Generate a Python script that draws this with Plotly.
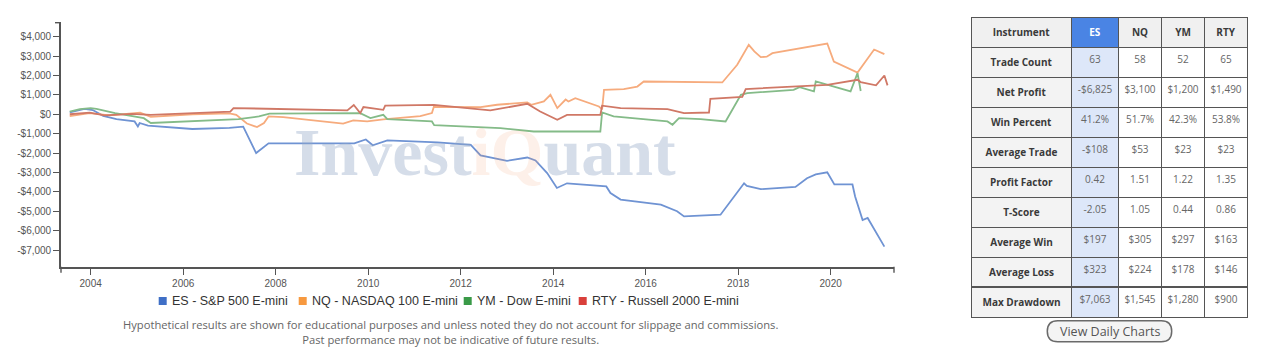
import plotly.graph_objects as go

# ---------------- data ----------------
series_names = ["ES - S&P 500 E-mini", "NQ - NASDAQ 100 E-mini", "YM - Dow E-mini", "RTY - Russell 2000 E-mini"]

es_dates = ["2003-07-20", "2003-11-14", "2004-01-18", "2004-04-09", "2004-07-23", "2004-12-13", "2005-01-08",
            "2005-01-22", "2005-03-29", "2006-03-14", "2007-01-01", "2007-04-20", "2007-07-31", "2007-10-19",
            "2007-11-06", "2009-09-13", "2009-12-13", "2010-02-06", "2010-06-01", "2011-07-02", "2012-03-21",
            "2012-06-06", "2013-01-01", "2013-06-10", "2013-08-14", "2013-11-14", "2014-01-30", "2014-04-20",
            "2015-02-24", "2015-03-29", "2015-06-17", "2016-04-30", "2016-09-05", "2016-10-30", "2017-08-14",
            "2018-02-16", "2018-03-10", "2018-06-28", "2019-03-29", "2019-06-28", "2019-09-05", "2019-12-05",
            "2020-01-30", "2020-06-21", "2020-07-12", "2020-09-09", "2020-10-19", "2021-02-28"]
es_values = [100, 280, 220, -80, -250, -370, -630,
             -450, -590, -760, -700, -640, -2000, -1600,
             -1500, -1500, -1300, -1600, -1350, -1450, -1580,
             -2120, -2400, -2230, -2380, -3030, -3800, -3560,
             -3720, -4060, -4400, -4660, -5000, -5270, -5180,
             -3560, -3690, -3860, -3750, -3300, -3100, -2990,
             -3620, -3620, -4240, -5460, -5350, -6825]

nq_dates = ["2003-07-20", "2003-12-24", "2004-05-30", "2005-01-26", "2005-04-20", "2006-03-14", "2007-01-01",
            "2007-02-24", "2007-05-19", "2007-08-07", "2007-10-01", "2007-11-06", "2008-03-01", "2009-06-17",
            "2009-09-05", "2009-12-24", "2010-04-30", "2011-02-16", "2011-05-19", "2011-06-03", "2012-06-06",
            "2012-10-15", "2013-06-10", "2013-07-12", "2013-10-19", "2013-12-10", "2014-02-02", "2014-04-09",
            "2014-05-01", "2014-06-24", "2014-12-28", "2015-01-22", "2015-02-06", "2015-07-12", "2015-10-27",
            "2015-12-17", "2017-08-28", "2017-12-24", "2018-03-25", "2018-05-08", "2018-06-28", "2018-08-14",
            "2018-09-28", "2019-12-05", "2020-01-26", "2020-07-31", "2020-12-09", "2021-02-28"]
nq_values = [-100, 60, -60, 80, -130, 0, 50,
             -30, -480, -660, -450, -110, -150, -480,
             -320, -370, -260, -100, 60, 380, 370,
             490, 610, 490, 660, 1000, 320, 760,
             660, 830, 400, 250, 1260, 1300, 1430,
             1690, 1640, 2550, 3580, 3240, 2950, 2970,
             3150, 3650, 2720, 2150, 3340, 3100]

ym_dates = ["2003-07-20", "2003-10-08", "2004-01-01", "2004-02-16", "2004-07-12", "2004-12-09", "2005-02-24",
            "2005-04-20", "2006-03-14", "2007-03-14", "2007-08-22", "2007-11-14", "2009-10-30", "2010-01-18",
            "2010-04-30", "2010-06-01", "2011-05-19", "2011-06-06", "2012-11-10", "2013-07-31", "2015-01-08",
            "2015-01-22", "2015-04-23", "2016-06-21", "2016-07-31", "2016-09-20", "2017-03-10", "2017-09-23",
            "2018-01-22", "2018-03-14", "2019-03-14", "2019-04-30", "2019-08-22", "2019-09-05", "2020-06-06",
            "2020-07-31", "2020-08-25"]
ym_values = [140, 270, 320, 280, 60, -110, -200,
             -450, -370, -250, -110, 30, 60, -200,
             -30, -250, -370, -560, -710, -890, -890,
             90, -110, -370, -540, -200, -250, -370,
             1000, 1090, 1260, 1400, 1180, 1700, 1180,
             2120, 1200]

rty_dates = ["2003-07-20", "2003-12-24", "2004-04-20", "2004-11-24", "2005-04-20", "2006-05-15", "2007-01-08",
             "2007-02-02", "2008-01-12", "2009-07-20", "2009-09-09", "2009-10-30", "2009-11-24", "2010-04-30",
             "2010-05-15", "2011-06-03", "2012-08-22", "2013-06-10", "2013-09-20", "2014-02-02", "2014-04-20",
             "2015-01-08", "2015-01-22", "2015-06-17", "2016-06-21", "2016-10-30", "2017-05-15", "2017-05-26",
             "2018-02-02", "2018-03-01", "2019-12-05", "2020-07-31", "2020-08-25", "2020-12-24", "2021-02-28",
             "2021-03-25"]
rty_values = [0, 80, -60, 20, -30, 60, 140,
              320, 270, 200, 480, 60, 370, 230,
              450, 480, 200, 540, 140, -280, -30,
              -30, 440, 320, 270, 60, 90, 800,
              900, 1300, 1520, 1780, 1660, 1490, 2000,
              1490]

y_tick_values = [4000, 3000, 2000, 1000, 0, -1000, -2000, -3000, -4000, -5000, -6000, -7000]
y_tick_labels = ["$4,000", "$3,000", "$2,000", "$1,000", "$0", "-$1,000", "-$2,000", "-$3,000",
                 "-$4,000", "-$5,000", "-$6,000", "-$7,000"]

table_header = ["Instrument", "ES", "NQ", "YM", "RTY"]
metric_names = ["Trade Count", "Net Profit", "Win Percent", "Average Trade", "Profit Factor",
                "T-Score", "Average Win", "Average Loss", "Max Drawdown"]
es_stats = ["63", "-$6,825", "41.2%", "-$108", "0.42", "-2.05", "$197", "$323", "$7,063"]
nq_stats = ["58", "$3,100", "51.7%", "$53", "1.51", "1.05", "$305", "$224", "$1,545"]
ym_stats = ["52", "$1,200", "42.3%", "$23", "1.22", "0.44", "$297", "$178", "$1,280"]
rty_stats = ["65", "$1,490", "53.8%", "$23", "1.35", "0.86", "$163", "$146", "$900"]

disclaimer = ("Hypothetical results are shown for educational purposes and unless noted they do not account "
              "for slippage and commissions.<br>Past performance may not be indicative of future results.")

# ---------------- styling ----------------
W, H = 1281, 353
line_colors = ["#6f93d3", "#f6ab7d", "#84bb88", "#d07866"]
legend_colors = ["#3f6fc6", "#f7993f", "#3a9a48", "#d9403b"]
font_sans = "Liberation Sans, Arial, sans-serif"
font_open = "Open Sans, sans-serif"

fig = go.Figure()
all_dates = [es_dates, nq_dates, ym_dates, rty_dates]
all_values = [es_values, nq_values, ym_values, rty_values]
for name, d, v, c in zip(series_names, all_dates, all_values, line_colors):
    fig.add_trace(go.Scatter(x=d, y=v, mode="lines", name=name, showlegend=False,
                             line=dict(color=c, width=1.8)))


def nobreak(s):
    return s.replace(" ", "\u00a0")


# stats table
n = len(metric_names)
fig.add_trace(go.Table(
    domain=dict(x=[971.5 / W, 1247.5 / W], y=[0.0, (H - 17.3) / H]),
    columnwidth=[100, 47, 43, 43, 43],
    header=dict(values=["<b>%s</b>" % h for h in table_header],
                fill_color=["#f0f0f0", "#4a84e4", "#f0f0f0", "#f0f0f0", "#f0f0f0"],
                font=dict(family=font_open, size=10, color=["#3a3a3a", "#ffffff", "#3a3a3a", "#3a3a3a", "#3a3a3a"]),
                line=dict(color="#555555", width=1.6), align="center", height=28),
    cells=dict(values=[["<b>%s</b>" % nobreak(m) for m in metric_names],
                       [nobreak(v) for v in es_stats], nq_stats, ym_stats, rty_stats],
               fill_color=[["#f3f3f3"] * n, ["#dde7f9"] * n, ["#ffffff"] * n, ["#ffffff"] * n, ["#ffffff"] * n],
               font=dict(family=font_open, size=10, color=["#3a3a3a", "#666666", "#666666", "#666666", "#666666"]),
               line=dict(color="#555555", width=1.6), align="center", height=28),
))

x0p, x1p = 61 / W, 894 / W
y0p, y1p = (H - 266.7) / H, (H - 22.7) / H

fig.update_layout(
    width=W, height=H, margin=dict(l=0, r=0, t=0, b=0),
    paper_bgcolor="white", plot_bgcolor="white", template="none",
    showlegend=False,
    xaxis=dict(domain=[x0p, x1p], type="date", range=["2003-05-12", "2021-05-15"],
               tick0="2004-01-01", dtick="M24", tickformat="%Y",
               showgrid=False, zeroline=False, showline=True, linecolor="#555555", linewidth=1.6,
               ticks="outside", ticklen=6, tickcolor="#555555", tickwidth=1.2,
               tickfont=dict(family=font_sans, size=10, color="#555555"), automargin=False),
    yaxis=dict(domain=[y0p, y1p], range=[-7861, 4722],
               tickmode="array", tickvals=y_tick_values, ticktext=y_tick_labels,
               showgrid=False, zeroline=False, showline=True, linecolor="#555555", linewidth=1.6,
               ticks="outside", ticklen=6, tickcolor="#555555", tickwidth=1.2,
               tickfont=dict(family=font_sans, size=10, color="#555555"), automargin=False),
)

shapes = []
# axis end caps (d3-style outer ticks)
shapes.append(dict(type="line", xref="x domain", yref="y domain", xsizemode="pixel", xanchor=0,
                   x0=-6, x1=0, y0=1, y1=1, line=dict(color="#555555", width=1.4)))
shapes.append(dict(type="line", xref="x domain", yref="y domain", ysizemode="pixel", yanchor=0,
                   x0=1, x1=1, y0=0, y1=-6, line=dict(color="#555555", width=1.4)))
shapes.append(dict(type="line", xref="x domain", yref="y domain", ysizemode="pixel", yanchor=0,
                   x0=0, x1=0, y0=0, y1=-6, line=dict(color="#555555", width=1.4)))

annotations = []
# watermark
annotations.append(dict(
    text='<b>Invest<span style="color:rgba(244,160,110,0.38)">iQ</span>uant</b>',
    x=485 / W, y=(H - 152) / H, xref="paper", yref="paper", xanchor="center", yanchor="middle",
    showarrow=False, font=dict(family="Liberation Serif, Times New Roman, serif", size=68,
                               color="rgba(150,170,200,0.40)")))

# manual legend
legend_text_x = [171.7, 311.7, 476.7, 591.7]
legend_y = 301
for name, c, tx in zip(series_names, legend_colors, legend_text_x):
    shapes.append(dict(type="rect", xref="paper", yref="paper",
                       x0=(tx - 13) / W, x1=(tx - 5) / W,
                       y0=(H - legend_y - 4) / H, y1=(H - legend_y + 4) / H,
                       fillcolor=c, line=dict(width=0)))
    annotations.append(dict(text=name, x=(tx - 2) / W, y=(H - legend_y) / H, xref="paper", yref="paper",
                            xanchor="left", yanchor="middle", showarrow=False,
                            font=dict(family=font_sans, size=12.5, color="#333333")))

# disclaimer
annotations.append(dict(text=disclaimer, x=450 / W, y=(H - 332.3) / H, xref="paper", yref="paper",
                        xanchor="center", yanchor="middle", showarrow=False,
                        font=dict(family=font_open, size=11.2, color="#666666")))

# "View Daily Charts" button
bx0, bx1, by0, by1 = 1047.3, 1171.7, 320.7, 341.7
r = 10.5


def px(x):
    return x / W


def py(y):
    return (H - y) / H


path = (f"M {px(bx0 + r)},{py(by0)} L {px(bx1 - r)},{py(by0)} "
        f"Q {px(bx1)},{py(by0)} {px(bx1)},{py((by0 + by1) / 2)} "
        f"Q {px(bx1)},{py(by1)} {px(bx1 - r)},{py(by1)} L {px(bx0 + r)},{py(by1)} "
        f"Q {px(bx0)},{py(by1)} {px(bx0)},{py((by0 + by1) / 2)} "
        f"Q {px(bx0)},{py(by0)} {px(bx0 + r)},{py(by0)} Z")
shapes.append(dict(type="path", xref="paper", yref="paper", path=path,
                   fillcolor="#f4f4f4", line=dict(color="#6a6a6a", width=1.5)))
annotations.append(dict(text="View Daily Charts", x=px((bx0 + bx1) / 2), y=py((by0 + by1) / 2),
                        xref="paper", yref="paper", xanchor="center", yanchor="middle", showarrow=False,
                        font=dict(family=font_open, size=12.5, color="#555555")))

fig.update_layout(shapes=shapes, annotations=annotations)
fig.write_html("out.html")
